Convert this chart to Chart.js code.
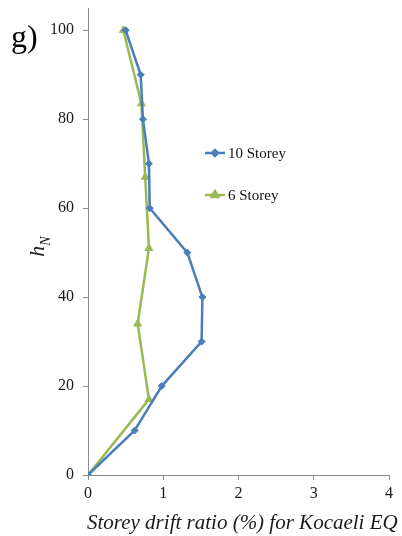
<!DOCTYPE html>
<html>
<head>
<meta charset="utf-8">
<script src="https://cdn.jsdelivr.net/npm/chart.js@4.4.1/dist/chart.umd.min.js"></script>
<style>
  html, body { margin: 0; padding: 0; background: #fff; }
  #wrap { position: relative; width: 402px; height: 536px; }
  #c { position: absolute; left: 0; top: 0; }
  #panel { position: absolute; left: 11px; top: 18px; font-family: "Liberation Serif", serif; font-size: 32px; color: #000; }
  #ytitle { position: absolute; left: 29px; top: 232px; transform: rotate(-90deg); transform-origin: center;
            font-family: "Liberation Serif", serif; font-style: italic; font-size: 22px; color: #222; white-space: nowrap; }
  #ytitle sub { font-size: 14px; }
  #xtitle { position: absolute; left: 87px; top: 510px; line-height: 24px; white-space: nowrap;
            font-family: "Liberation Serif", serif; font-style: italic; font-size: 21px; color: #1a1a1a; }
</style>
</head>
<body>
<div id="wrap">
  <canvas id="c" width="402" height="536"></canvas>
  <div id="panel">g)</div>
  <div id="ytitle">h<sub>N</sub></div>
  <div id="xtitle">Storey drift ratio (%) for Kocaeli EQ</div>
</div>
<script>
// Storey drift ratio (%) against normalised height h_N
const storey10Drift  = [0, 0.62, 0.98, 1.51, 1.52, 1.32, 0.82, 0.81, 0.73, 0.70, 0.50];
const storey10Height = [0, 10, 20, 30, 40, 50, 60, 70, 80, 90, 100];
const storey6Drift   = [0, 0.81, 0.66, 0.81, 0.76, 0.71, 0.47];
const storey6Height  = [0, 17, 34, 51, 67, 83.5, 100];
const xTicks = [0, 1, 2, 3, 4];
const yTicks = [0, 20, 40, 60, 80, 100];
const seriesNames = ['10 Storey', '6 Storey'];

const blue = '#4A7EBB';
const green = '#98B954';
const serif = '"Liberation Serif", "Times New Roman", serif';

const toPoints = (xs, ys) => xs.map((x, i) => ({ x, y: ys[i] }));

// Legend drawn inside the plot area, stacked vertically
const innerLegend = {
  id: 'innerLegend',
  afterDraw(chart) {
    const ctx = chart.ctx;
    const rows = [
      { name: seriesNames[0], color: blue, style: 'rectRot', y: 153 },
      { name: seriesNames[1], color: green, style: 'triangle', y: 195 }
    ];
    ctx.save();
    rows.forEach(r => {
      ctx.strokeStyle = r.color;
      ctx.lineWidth = 2.5;
      ctx.beginPath();
      ctx.moveTo(205, r.y);
      ctx.lineTo(225, r.y);
      ctx.stroke();
      Chart.helpers.drawPoint(ctx, { pointStyle: r.style, radius: r.style === 'triangle' ? 4 : 3, borderWidth: 1 }, 215, r.y);
      ctx.fillStyle = r.color;
      ctx.fill();
      ctx.fillStyle = '#111';
      ctx.font = '15px ' + serif;
      ctx.textBaseline = 'middle';
      ctx.fillText(r.name, 228, r.y + 1);
    });
    ctx.restore();
  }
};

new Chart(document.getElementById('c'), {
  type: 'scatter',
  data: {
    datasets: [
      {
        label: seriesNames[0],
        data: toPoints(storey10Drift, storey10Height),
        showLine: true,
        borderColor: blue,
        backgroundColor: blue,
        borderWidth: 2.5,
        pointStyle: 'rectRot',
        pointRadius: 3.5,
        pointBorderWidth: 1
      },
      {
        label: seriesNames[1],
        data: toPoints(storey6Drift, storey6Height),
        showLine: true,
        borderColor: green,
        backgroundColor: green,
        borderWidth: 2.5,
        pointStyle: 'triangle',
        pointRadius: 4.5,
        pointBorderWidth: 1
      }
    ]
  },
  options: {
    responsive: false,
    animation: false,
    layout: { padding: { top: 8, right: 13, left: 0, bottom: 0 } },
    plugins: { legend: { display: false }, tooltip: { enabled: false } },
    scales: {
      x: {
        type: 'linear',
        min: 0,
        max: 4,
        afterBuildTicks: s => { s.ticks = xTicks.map(v => ({ value: v })); },
        afterFit: s => { s.height = 61; },
        border: { color: '#8c8c8c', width: 1 },
        grid: { drawOnChartArea: false, tickLength: 5, color: '#8c8c8c' },
        ticks: { color: '#1a1a1a', font: { family: serif, size: 16 }, padding: 4 }
      },
      y: {
        type: 'linear',
        min: 0,
        max: 105,
        afterBuildTicks: s => { s.ticks = yTicks.map(v => ({ value: v })); },
        afterFit: s => { s.width = 88; s.paddingTop = 0; s.paddingBottom = 0; },
        border: { color: '#8c8c8c', width: 1 },
        grid: { drawOnChartArea: false, tickLength: 5, color: '#8c8c8c' },
        ticks: { color: '#1a1a1a', font: { family: serif, size: 16 }, padding: 9 }
      }
    }
  },
  plugins: [innerLegend]
});
</script>
</body>
</html>
